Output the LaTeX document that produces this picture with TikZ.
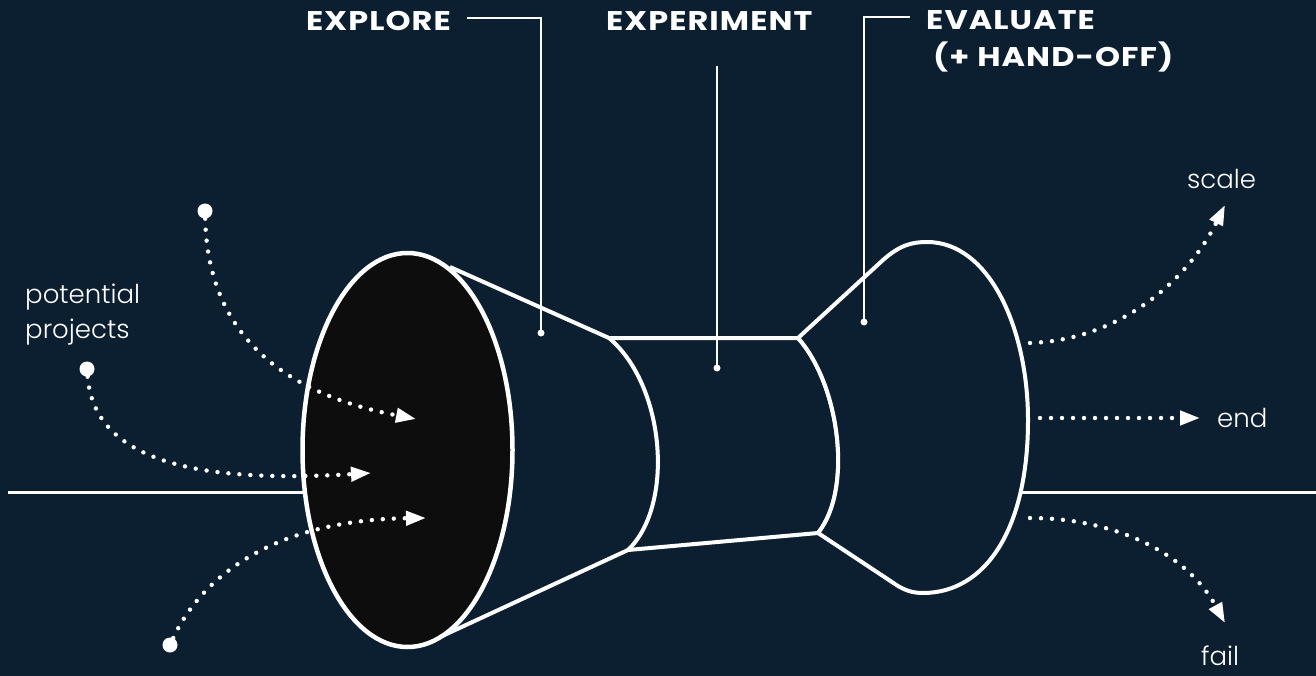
\documentclass[tikz,border=0pt]{standalone}
\usepackage{fontspec}
\setmainfont{Poppins}
\newfontfamily\titlefont[FakeStretch=1.18,LetterSpace=4]{Poppins}
\newfontfamily\lightfont[UprightFont={* Light}]{Poppins}
\usetikzlibrary{arrows.meta}
\definecolor{bg}{HTML}{0B1F30}
\definecolor{hole}{HTML}{0D0D0D}
\begin{document}
\begin{tikzpicture}[x=1pt,y=-1pt,
  shapeline/.style={draw=white,line width=4pt,line join=round},
  baseline/.style={draw=white,line width=3pt},
  leader/.style={draw=white,line width=1.6pt},
  flow/.style={draw=white,line width=4.4pt,line cap=round,dash pattern=on 0pt off 11pt,-{Triangle[length=20pt,width=14pt]}},
  bigdot/.style={circle,fill=white,inner sep=0pt,minimum size=15pt},
  smalldot/.style={circle,fill=white,inner sep=0pt,minimum size=7pt},
  title/.style={font=\titlefont\fontsize{27}{30}\selectfont\bfseries,text=white,inner sep=0pt,anchor=base west},
  lbl/.style={font=\lightfont\fontsize{26}{32}\selectfont,text=white,inner sep=0pt,anchor=base west}]
\fill[bg] (0,0) rectangle (1316,676);
\useasboundingbox (0,0) rectangle (1316,676);
% axis line
\draw[baseline] (8,492) -- (320,492);
\draw[baseline] (1010,492) -- (1316,492);
% middle section
\draw[shapeline] (450,267) -- (609,338) -- (798,338);
\draw[shapeline] (440,637) -- (628,550) -- (818,533);
\draw[shapeline] (609,338) .. controls (665,385) and (675,505) .. (628,550);
\draw[shapeline] (798,338) .. controls (840,385) and (853,490) .. (818,533);
% right bulb
\draw[shapeline,fill=bg] (798,338) -- (883,260) .. controls (900,245) and (912,242) .. (927,242)
  .. controls (990,242) and (1028,330) .. (1028,420)
  .. controls (1028,530) and (985,593) .. (923,593)
  .. controls (912,593) and (905,590) .. (898,586) -- (818,533)
  .. controls (853,490) and (840,385) .. (798,338);
% mouth ellipse
\draw[shapeline,line width=4.5pt,fill=hole] (407.5,450) ellipse [x radius=105, y radius=197];
% labels
\node[title] (explore) at (306,31) {EXPLORE};
\node[title] (experiment) at (606,31) {EXPERIMENT};
\node[title] (evaluate) at (926,30) {EVALUATE};
\node[title] (handoff) at (933,67) {(+ HAND-OFF)};
\node[lbl] (pp1) at (25,303) {potential};
\node[lbl] (pp2) at (25,338) {projects};
\node[lbl] (scale) at (1187,189) {scale};
\node[lbl] (end) at (1217,427) {end};
\node[lbl] (fail) at (1201,665) {fail};
% leader lines
\node[smalldot] (d1) at (541,333) {};
\node[smalldot] (d2) at (717,368) {};
\node[smalldot] (d3) at (864,322) {};
\coordinate (l1) at (467,18);
\coordinate (l2) at (717,66);
\coordinate (l3) at (910,17);
\draw[leader] (l1) -| (d1.center);
\draw[leader] (l2) -- (d2.center);
\draw[leader] (l3) -| (d3.center);
% incoming flows
\node[bigdot] (s1) at (205,211) {};
\node[bigdot] (s2) at (87,369) {};
\node[bigdot] (s3) at (170,645) {};
\coordinate (e1) at (416,419);
\coordinate (e2) at (371,473);
\coordinate (e3) at (426,518);
\draw[flow] (s1) .. controls (208,340) and (290,395) .. (e1);
\draw[flow] (s2) .. controls (95,470) and (220,482) .. (e2);
\draw[flow] (s3) .. controls (200,580) and (270,520) .. (e3);
% outgoing flows
\coordinate (o1) at (1030,343);
\coordinate (o2) at (1040,418);
\coordinate (o3) at (1030,518);
\coordinate (t1) at (1225,205);
\coordinate (t2) at (1200,418);
\coordinate (t3) at (1225,623);
\draw[flow] (o1) .. controls (1120,340) and (1188,280) .. (t1);
\draw[flow] (o2) -- (t2);
\draw[flow] (o3) .. controls (1110,518) and (1185,550) .. (t3);
\end{tikzpicture}
\end{document}
